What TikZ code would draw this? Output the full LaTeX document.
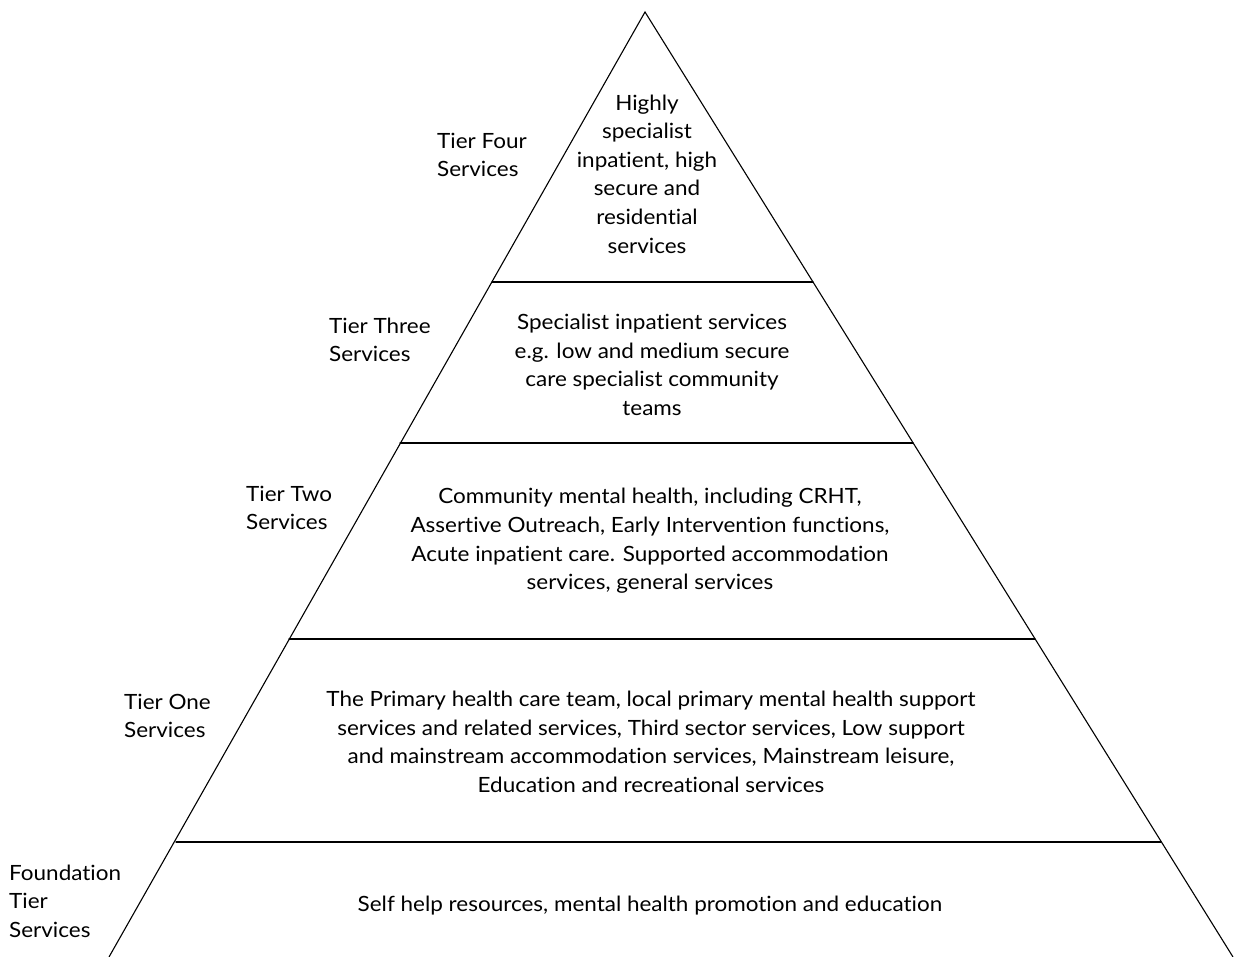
\documentclass[tikz,border=0pt]{standalone}
\usepackage{fontspec}
\setmainfont{Lato}[Ligatures=NoCommon, FakeStretch=1.07]
\usepackage{tikz}

\begin{document}
\begin{tikzpicture}[x=1pt, y=-1pt]
    \tikzset{TierText/.style = {align        = center,
                                inner sep    = 0pt,
                                font         = \fontsize{21}{28.6}\selectfont}}
    \tikzset{TierLabel/.style = {TierText,
                                 align        = left,
                                 anchor       = west}}
    \tikzset{EdgeStyle/.style = {line width   = 1.1pt,
                                 line cap     = round}}
    \useasboundingbox (0,0) rectangle (1235,957);
    % corners of the pyramid
    \coordinate (Apex)  at (645,12);
    \coordinate (Left)  at (109,957);
    \coordinate (Right) at (1233,957);
    \draw[EdgeStyle] (Left) -- (Apex) -- (Right);
    % tier borders
    \coordinate (FourL)  at (492,282);  \coordinate (FourR)  at (813,282);
    \coordinate (ThreeL) at (400,443);  \coordinate (ThreeR) at (913,443);
    \coordinate (TwoL)   at (289,639);  \coordinate (TwoR)   at (1035,639);
    \coordinate (OneL)   at (176,842);  \coordinate (OneR)   at (1161,842);
    \draw[EdgeStyle] (FourL)  -- (FourR);
    \draw[EdgeStyle] (ThreeL) -- (ThreeR);
    \draw[EdgeStyle] (TwoL)   -- (TwoR);
    \draw[EdgeStyle] (OneL)   -- (OneR);
    % contents
    \node[TierText] (Four)  at (647,174) {Highly\\specialist\\inpatient, high\\secure and\\residential\\services};
    \node[TierText] (Three) at (652,365) {Specialist inpatient services\\e.g. low and medium secure\\care specialist community\\teams};
    \node[TierText] (Two)   at (650,541) {Community mental health, including CRHT,\\Assertive Outreach, Early Intervention functions,\\Acute inpatient care. Supported accommodation\\services, general services};
    \node[TierText] (One)   at (651,742) {The Primary health care team, local primary mental health support\\services and related services, Third sector services, Low support\\and mainstream accommodation services, Mainstream leisure,\\Education and recreational services};
    \node[TierText] (Found) at (650,906) {Self help resources, mental health promotion and education};
    % labels
    \node[TierLabel] (FourLab)  at (437,155) {Tier Four\\Services};
    \node[TierLabel] (ThreeLab) at (329,340) {Tier Three\\Services};
    \node[TierLabel] (TwoLab)   at (246,508) {Tier Two\\Services};
    \node[TierLabel] (OneLab)   at (124,716) {Tier One\\Services};
    \node[TierLabel] (FoundLab) at (9,901)   {Foundation\\Tier\\Services};
\end{tikzpicture}
\end{document}
